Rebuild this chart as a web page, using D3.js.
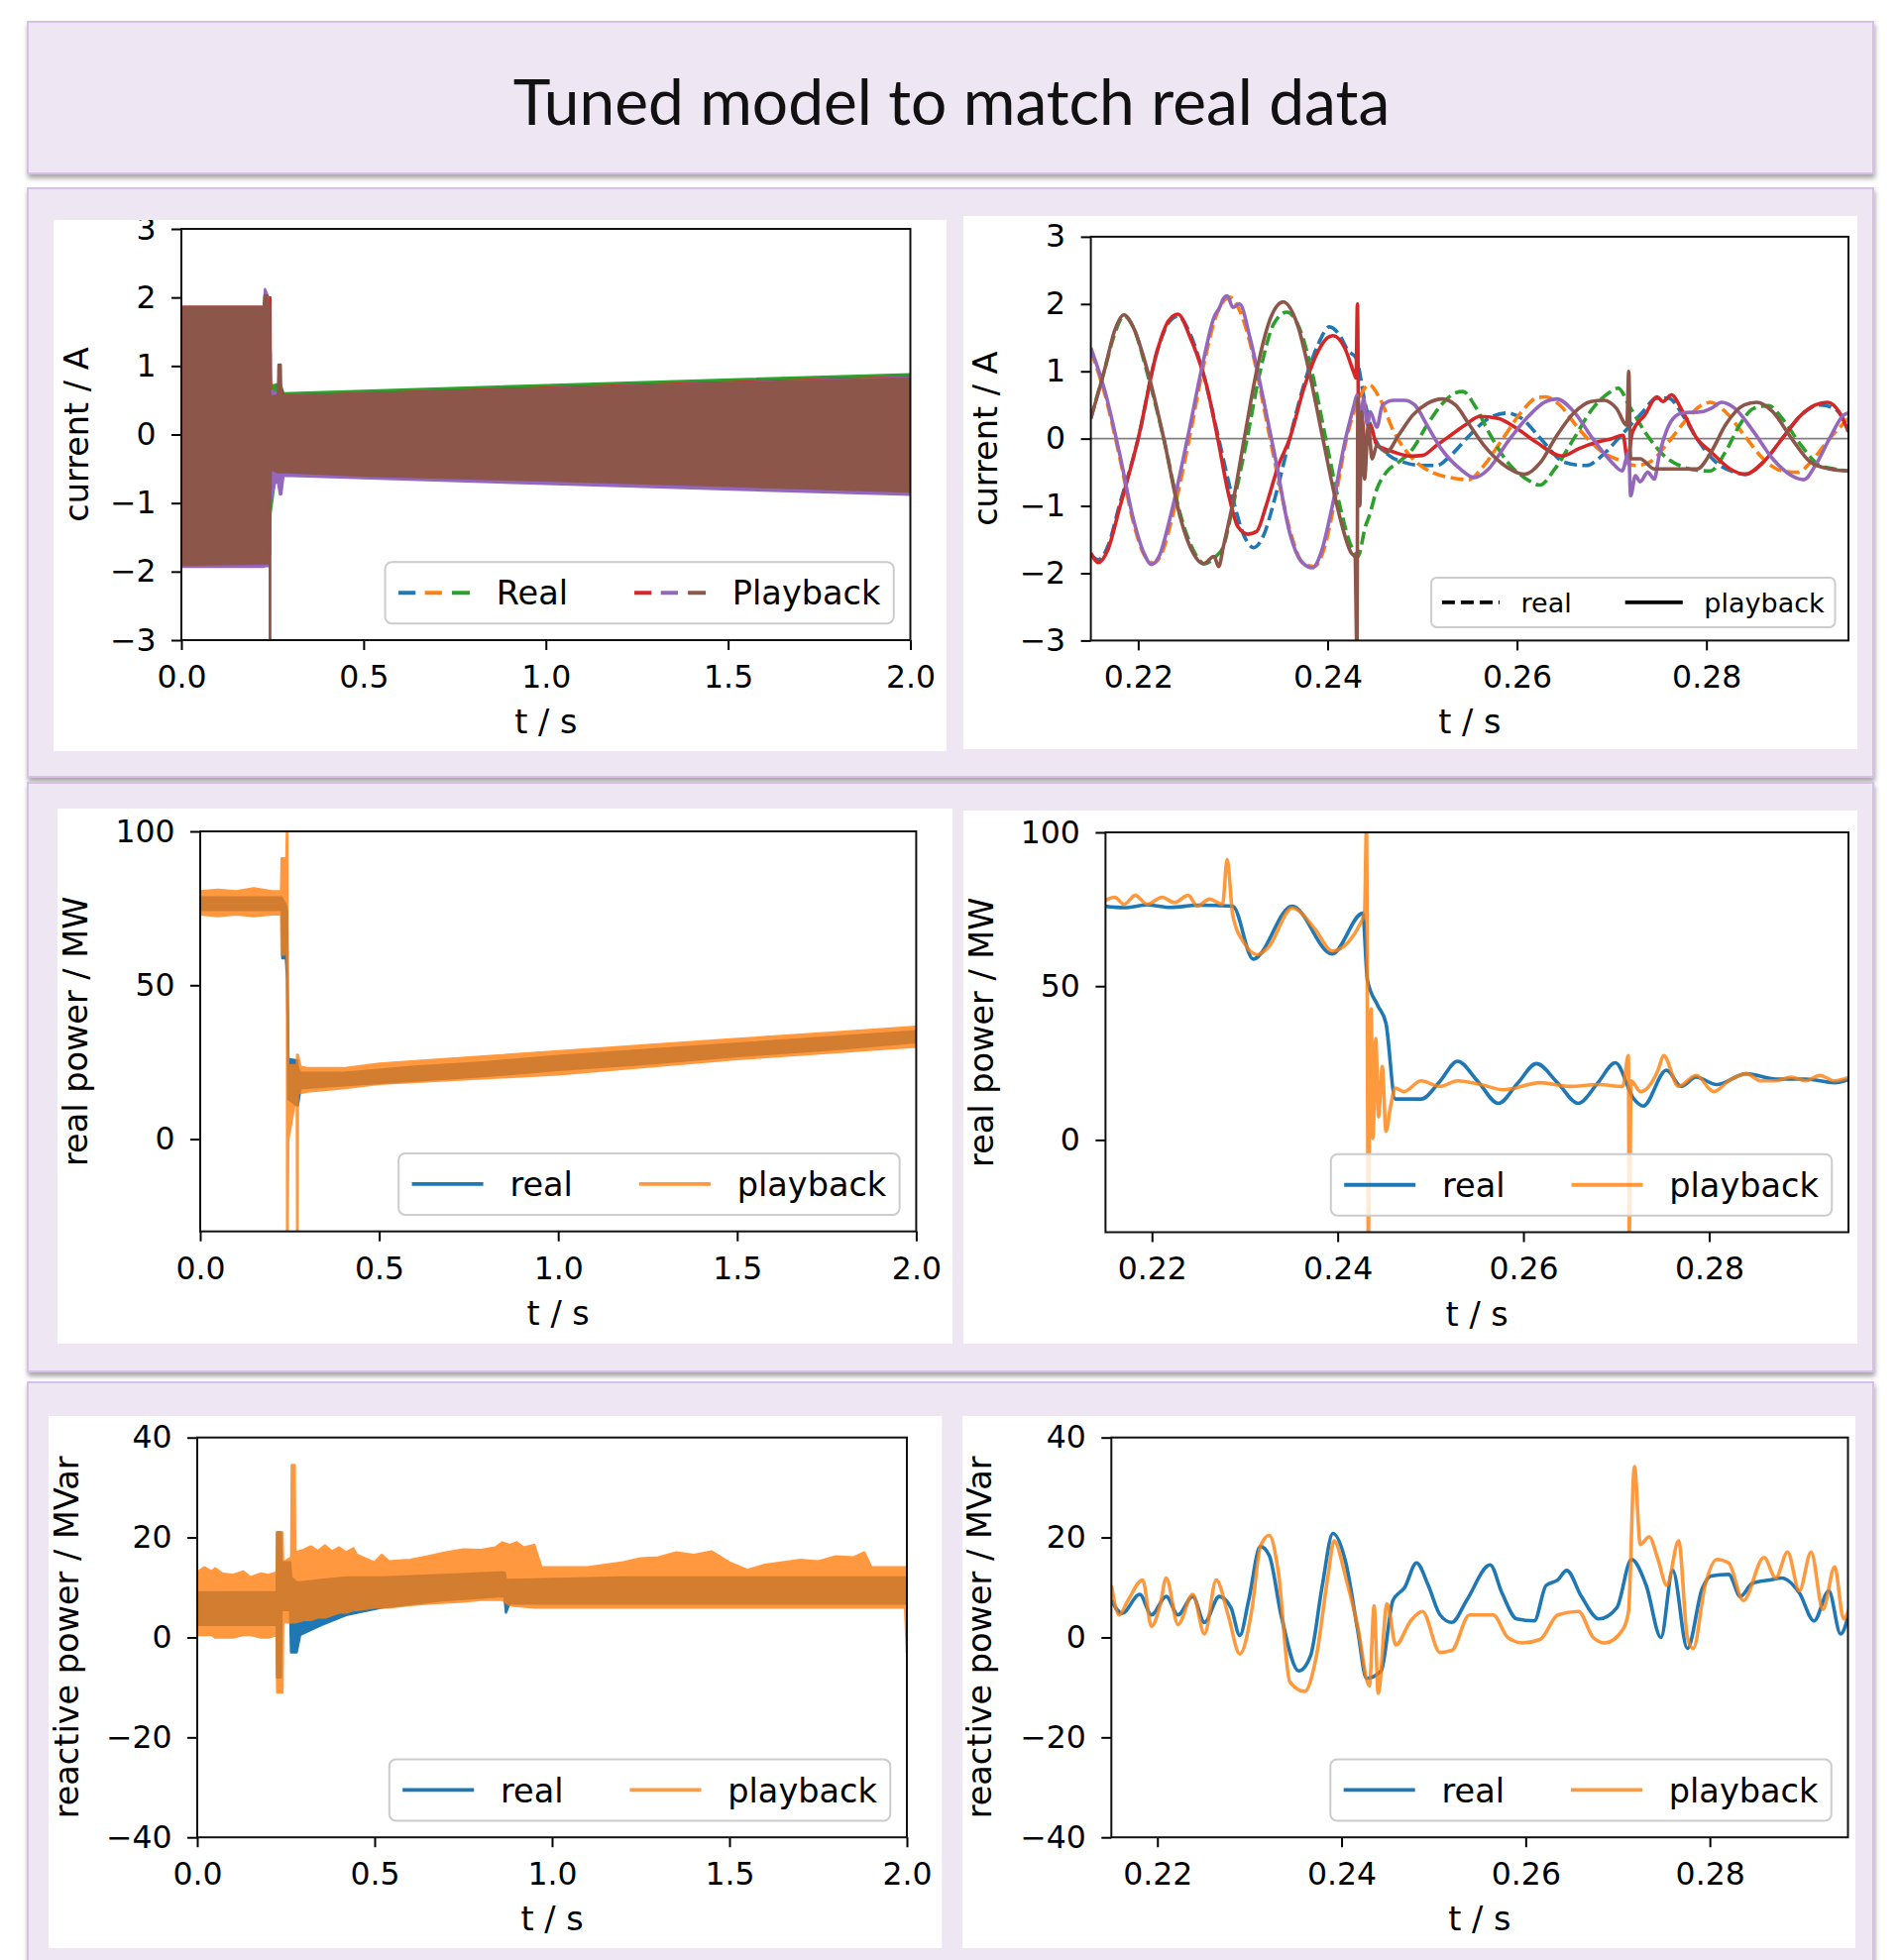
<!DOCTYPE html>
<html>
<head>
<meta charset="utf-8">
<script src="https://cdn.jsdelivr.net/npm/d3@7"></script>
<style>
body { margin: 0; background: #fff; }
svg { display: block; }
</style>
</head>
<body>
<svg width="1917" height="1978"></svg>
<script>
// ---- data ----
// full run (0..2 s), dense 60 Hz traces shown as envelopes: [t, low, high]
var curEnvRealA = [[0,-1.84,1.80],[0.226,-1.84,1.80],[0.2322,-1.62,1.82],[0.2406,-1.62,1.66],[0.2445,-0.4,1.2],[0.2465,-0.4,0.4],[0.28,-0.55,0.55],[1.0,-0.68,0.68],[2.0,-0.84,0.84]];
var curEnvRealB = [[0,-1.86,1.84],[0.226,-1.86,1.84],[0.2297,-1.9,2.1],[0.2386,-1.9,2.0],[0.2444,-0.6,0.8],[0.25,-0.6,0.62],[0.28,-0.56,0.55],[1.0,-0.69,0.68],[2.0,-0.85,0.84]];
var curEnvRealC = [[0,-1.88,1.84],[0.226,-1.88,1.84],[0.2357,-1.86,1.88],[0.2432,-1.75,1.0],[0.2444,-1.15,0.72],[0.256,-0.7,0.72],[0.2707,-0.69,0.75],[0.28,-0.56,0.6],[1.0,-0.68,0.72],[2.0,-0.84,0.88]];
var curEnvPlayA = [[0,-1.9,1.86],[0.226,-1.9,1.86],[0.2316,-1.42,1.86],[0.2406,-1.42,2.0],[0.2443,-0.3,2.0],[0.2455,-0.3,0.35],[0.2754,-0.53,0.65],[0.28,-0.55,0.56],[1.0,-0.68,0.68],[2.0,-0.84,0.84]];
var curEnvPlayB = [[0,-1.93,1.84],[0.226,-1.93,1.84],[0.2294,-1.92,2.12],[0.2384,-1.92,2.0],[0.2431,-1.0,0.65],[0.262,-0.6,0.6],[0.2705,-0.87,0.6],[0.274,-0.87,0.55],[0.28,-0.6,0.55],[1.0,-0.72,0.67],[2.0,-0.88,0.83]];
var curEnvPlayC = [[0,-1.9,1.82],[0.006,-1.9,1.86],[0.226,-1.88,1.86],[0.2285,-1.88,2.03],[0.2353,-1.88,2.03],[0.2405,-1.88,1.9],[0.2428,-1.8,1.2],[0.2429,-3.3,1.0],[0.2436,-3.3,0.6],[0.2437,-1.0,0.6],[0.2452,-0.5,0.55],[0.265,-0.55,0.57],[0.2665,-0.55,1.02],[0.2725,-0.55,1.02],[0.274,-0.55,0.57],[0.29,-0.55,0.56],[0.5,-0.6,0.6],[1.0,-0.67,0.67],[1.5,-0.75,0.75],[2.0,-0.83,0.82]];

var pEnvReal = [[0,74.5,78.5],[0.228,74.5,78.5],[0.2295,58.8,78],[0.2395,58.8,76],[0.2427,52,74],[0.2445,37.9,45],[0.2462,13,26],[0.27,11,25.5],[0.273,11,23],[0.28,16.5,21.5],[0.4,17.5,21.5],[0.6,19,23.5],[0.8,20.5,25],[1.0,22.5,27],[1.25,24.5,29],[1.5,27,31],[1.75,29,33],[2.0,31.5,35]];
var pEnvPlay = [[0,73,80.5],[0.05,72.5,81],[0.1,73,80.5],[0.15,72.5,81.5],[0.2,73,80.5],[0.226,73,80.5],[0.2275,60,91.2],[0.241,60,91.2],[0.2425,60,102],[0.2428,-32,102],[0.2438,-32,45],[0.246,0,24],[0.27,15.5,24],[0.2708,-32,27.4],[0.2718,-32,27.4],[0.2728,15,27.4],[0.28,15,23.5],[0.3,15.5,23],[0.4,16.5,23],[0.5,18,24.5],[0.75,19.5,26.5],[1.0,21,28.5],[1.25,23.5,30.5],[1.5,26,32.5],[1.75,28,34.5],[2.0,30,36.5]];

var qEnvReal = [[0,2.5,9],[0.224,2.5,9],[0.2255,-8,21],[0.2355,-8,21],[0.2375,5.5,15],[0.262,5.5,15],[0.2645,-3,12],[0.28,-3,11],[0.29,0.5,11],[0.35,2.5,11.5],[0.42,4.5,12],[0.52,6,12],[0.69,7.4,12.5],[0.85,8.2,13],[0.866,8.2,13],[0.87,5,11.5],[0.88,6.8,11.5],[1.2,6.8,12],[1.6,6.8,12],[2.0,6.8,12]];
var qEnvPlay = [[0,0.5,13],[0.02,0.5,14],[0.04,0.5,13.2],[0.05,0,13.8],[0.07,0,12.8],[0.1,0,12.5],[0.13,0.5,13.2],[0.15,0.5,12],[0.18,0,12.8],[0.2,0,12.5],[0.224,0.5,13],[0.2255,-11,21],[0.24,-11,21],[0.242,3,15],[0.265,3,16],[0.2665,3,34.5],[0.2745,3,34.5],[0.276,3,17],[0.3,3.5,17.5],[0.32,3.5,18.2],[0.34,4,17.3],[0.36,4,18.4],[0.38,4.5,17.2],[0.4,5,18],[0.42,5,17],[0.44,5.5,17.8],[0.45,5.5,16.5],[0.5,6,15],[0.52,6,16.5],[0.54,6,15.2],[0.6,6.5,15.5],[0.65,6.8,16.2],[0.7,7,17],[0.75,7.2,17.6],[0.8,7.5,17.5],[0.84,7.5,18],[0.86,7.5,19],[0.88,6.5,18.5],[0.9,6.3,19],[0.92,6.2,18],[0.95,6,18.5],[0.97,6,14],[1.1,6,14],[1.2,6,15],[1.25,6,15.8],[1.3,6,16],[1.35,6,17],[1.4,6,16.5],[1.45,6,17.2],[1.5,6,15],[1.55,6,13.5],[1.6,6,14.5],[1.7,6,15.5],[1.75,6,15.2],[1.8,6,16.2],[1.85,6,16],[1.88,6,17],[1.9,6,14],[1.995,6,14],[2.0,-3,14]];

// zoomed window (0.215..0.295 s): [t, value]
var curRealA = [[0.2150,-1.72],[0.2158,-1.8],[0.2168,-1.6],[0.2180,-1.0],[0.2200,0.0],[0.2220,1.3],[0.2232,1.72],[0.2242,1.82],[0.2255,1.55],[0.2270,0.9],[0.2285,0.0],[0.2300,-0.9],[0.2312,-1.45],[0.2322,-1.62],[0.2332,-1.45],[0.2345,-0.85],[0.2360,0.0],[0.2375,0.8],[0.2390,1.4],[0.2402,1.66],[0.2412,1.55],[0.2422,1.3],[0.2430,1.2],[0.2440,0.5],[0.2450,0.0],[0.2465,-0.25],[0.2480,-0.35],[0.2500,-0.4],[0.2515,-0.4],[0.2530,-0.25],[0.2550,0.05],[0.2570,0.3],[0.2590,0.38],[0.2605,0.3],[0.2625,0.0],[0.2650,-0.35],[0.2673,-0.4],[0.2690,-0.25],[0.2710,0.05],[0.2730,0.35],[0.2748,0.6],[0.2760,0.6],[0.2775,0.35],[0.2790,0.0],[0.2810,-0.35],[0.2830,-0.5],[0.2841,-0.53],[0.2860,-0.35],[0.2880,0.0],[0.2900,0.35],[0.2920,0.5],[0.2935,0.45],[0.2950,0.15]];
var curRealB = [[0.2150,1.3],[0.2165,0.65],[0.2180,-0.25],[0.2195,-1.25],[0.2206,-1.72],[0.2216,-1.85],[0.2225,-1.7],[0.2238,-1.05],[0.2254,0.0],[0.2270,1.15],[0.2283,1.85],[0.2297,2.1],[0.2310,1.8],[0.2322,1.2],[0.2335,0.3],[0.2348,-0.6],[0.2362,-1.45],[0.2374,-1.85],[0.2386,-1.9],[0.2396,-1.65],[0.2408,-0.9],[0.2420,0.0],[0.2432,0.55],[0.2444,0.8],[0.2455,0.6],[0.2470,0.1],[0.2490,-0.3],[0.2510,-0.5],[0.2530,-0.58],[0.2549,-0.61],[0.2565,-0.4],[0.2585,0.0],[0.2605,0.4],[0.2620,0.6],[0.2630,0.62],[0.2645,0.5],[0.2665,0.15],[0.2690,-0.2],[0.2710,-0.33],[0.2725,-0.4],[0.2740,-0.35],[0.2760,-0.05],[0.2780,0.3],[0.2795,0.5],[0.2804,0.54],[0.2820,0.4],[0.2840,0.05],[0.2860,-0.3],[0.2880,-0.48],[0.2897,-0.5],[0.2910,-0.35],[0.2930,0.0],[0.2950,0.3]];
var curRealC = [[0.2150,0.3],[0.2165,1.05],[0.2175,1.55],[0.2185,1.82],[0.2195,1.65],[0.2210,0.95],[0.2227,0.0],[0.2245,-1.15],[0.2258,-1.65],[0.2270,-1.86],[0.2282,-1.75],[0.2290,-1.6],[0.2300,-1.0],[0.2315,0.0],[0.2328,0.95],[0.2343,1.7],[0.2357,1.88],[0.2370,1.65],[0.2385,0.9],[0.2398,0.0],[0.2413,-1.0],[0.2425,-1.6],[0.2432,-1.75],[0.2440,-1.3],[0.2444,-1.15],[0.2452,-0.75],[0.2462,-0.5],[0.2475,-0.35],[0.2490,-0.15],[0.2505,0.2],[0.2520,0.5],[0.2535,0.68],[0.2543,0.7],[0.2555,0.5],[0.2570,0.1],[0.2590,-0.35],[0.2610,-0.6],[0.2624,-0.69],[0.2640,-0.45],[0.2660,0.0],[0.2680,0.45],[0.2697,0.68],[0.2707,0.75],[0.2718,0.5],[0.2735,0.1],[0.2755,-0.25],[0.2775,-0.42],[0.2790,-0.47],[0.2804,-0.48],[0.2820,-0.2],[0.2835,0.2],[0.2850,0.45],[0.2866,0.49],[0.2880,0.3],[0.2900,-0.1],[0.2920,-0.4],[0.2935,-0.45],[0.2950,-0.48]];
var curPlayA = [[0.2150,-1.70],[0.2158,-1.84],[0.2168,-1.65],[0.2180,-1.05],[0.2200,0.0],[0.2220,1.3],[0.2232,1.75],[0.2242,1.85],[0.2255,1.5],[0.2262,1.25],[0.2272,0.8],[0.2284,0.0],[0.2295,-0.8],[0.2305,-1.3],[0.2316,-1.42],[0.2325,-1.38],[0.2335,-1.0],[0.2348,-0.4],[0.2360,0.0],[0.2375,0.75],[0.2390,1.3],[0.2400,1.5],[0.2406,1.53],[0.2418,1.35],[0.2428,0.97],[0.2430,0.9],[0.24315,2.0],[0.2433,-0.2],[0.2436,0.3],[0.2440,-0.1],[0.2445,0.2],[0.2452,-0.1],[0.2460,-0.15],[0.2470,-0.2],[0.2487,-0.26],[0.2500,-0.25],[0.2515,-0.1],[0.2530,0.05],[0.2545,0.2],[0.2561,0.33],[0.2580,0.3],[0.2600,0.15],[0.2620,-0.05],[0.2648,-0.26],[0.2665,-0.15],[0.2685,-0.05],[0.2700,0.0],[0.2712,0.05],[0.27165,-0.3],[0.2722,0.1],[0.2735,0.35],[0.2748,0.62],[0.2754,0.55],[0.2763,0.65],[0.2775,0.4],[0.2790,0.0],[0.2805,-0.2],[0.2825,-0.45],[0.2841,-0.53],[0.2860,-0.35],[0.2880,0.0],[0.2900,0.35],[0.2915,0.5],[0.2928,0.54],[0.2940,0.4],[0.2950,0.1]];
var curPlayB = [[0.2150,1.35],[0.2165,0.7],[0.2180,-0.2],[0.2195,-1.2],[0.2206,-1.7],[0.2214,-1.87],[0.2222,-1.75],[0.2235,-1.1],[0.2252,0.0],[0.2268,1.1],[0.2280,1.8],[0.2286,1.95],[0.2290,2.08],[0.2294,2.12],[0.2300,1.95],[0.2307,2.0],[0.2318,1.5],[0.2332,0.6],[0.2345,-0.3],[0.2360,-1.4],[0.2372,-1.82],[0.2384,-1.92],[0.2393,-1.7],[0.2405,-1.0],[0.2419,0.0],[0.2428,0.5],[0.2431,0.65],[0.2435,0.3],[0.2438,0.6],[0.2442,0.2],[0.2445,0.4],[0.2452,0.17],[0.2458,0.5],[0.2470,0.57],[0.2481,0.57],[0.2492,0.5],[0.2505,0.2],[0.2520,-0.15],[0.2540,-0.45],[0.2555,-0.58],[0.2570,-0.45],[0.2590,-0.05],[0.2610,0.3],[0.2630,0.55],[0.2642,0.59],[0.2660,0.4],[0.2680,0.0],[0.2700,-0.35],[0.2711,-0.48],[0.2718,-0.2],[0.2720,-0.85],[0.2725,-0.55],[0.2730,-0.64],[0.2738,-0.5],[0.2745,-0.6],[0.2750,-0.26],[0.2765,0.3],[0.2775,0.38],[0.2795,0.4],[0.2805,0.45],[0.2816,0.54],[0.2830,0.45],[0.2850,0.1],[0.2870,-0.3],[0.2890,-0.55],[0.2903,-0.61],[0.2915,-0.4],[0.2930,0.0],[0.2945,0.35],[0.2950,0.38]];
var curPlayC = [[0.2150,0.30],[0.2165,1.05],[0.2175,1.6],[0.2185,1.84],[0.2195,1.65],[0.2210,1.0],[0.2227,0.0],[0.2245,-1.2],[0.2258,-1.7],[0.2269,-1.86],[0.2280,-1.75],[0.2285,-1.9],[0.2290,-1.6],[0.2300,-0.95],[0.2312,0.0],[0.2325,1.0],[0.2340,1.8],[0.2353,2.03],[0.2368,1.7],[0.2382,0.9],[0.2395,0.0],[0.2410,-1.0],[0.2425,-1.7],[0.2429,-1.76],[0.2431,-3.2],[0.2432,0.6],[0.2434,-1.0],[0.2436,0.4],[0.2439,-0.6],[0.2443,0.2],[0.2447,-0.3],[0.2452,-0.1],[0.2462,-0.2],[0.2475,0.05],[0.2490,0.35],[0.2505,0.52],[0.2521,0.59],[0.2535,0.5],[0.2550,0.2],[0.2565,-0.1],[0.2585,-0.38],[0.2608,-0.53],[0.2625,-0.35],[0.2640,0.0],[0.2660,0.38],[0.2678,0.55],[0.2692,0.57],[0.2705,0.45],[0.2716,0.2],[0.2718,1.0],[0.2720,-0.3],[0.2730,-0.3],[0.2745,-0.45],[0.2770,-0.45],[0.2790,-0.45],[0.2805,-0.2],[0.2820,0.2],[0.2840,0.5],[0.2853,0.54],[0.2870,0.4],[0.2890,0.0],[0.2910,-0.35],[0.2930,-0.45],[0.2950,-0.48]];

var pReal = [[0.21485,76.0],[0.2170,75.5],[0.2195,76.4],[0.2220,75.6],[0.2250,76.3],[0.2287,76.0],[0.2309,58.8],[0.2351,76.0],[0.2394,60.5],[0.2427,73.7],[0.2432,52.0],[0.2443,43.8],[0.2452,37.9],[0.2462,13.3],[0.2490,13.3],[0.2510,19.0],[0.2529,25.6],[0.2551,19.0],[0.2573,11.9],[0.2594,18.5],[0.2614,24.8],[0.2637,18.5],[0.2659,11.9],[0.2680,18.5],[0.2699,25.1],[0.2719,13.3],[0.2729,11.0],[0.2754,22.7],[0.2770,17.4],[0.2786,20.4],[0.2808,18.0],[0.2840,21.5],[0.2872,19.8],[0.2904,19.8],[0.2935,18.6],[0.2951,19.8]];
var pPlay = [[0.21485,77.7],[0.2160,78.9],[0.2170,76.6],[0.2182,79.5],[0.2195,76.6],[0.2211,78.9],[0.2224,77.2],[0.2239,79.5],[0.2249,76.0],[0.2262,78.3],[0.2276,76.6],[0.2281,91.2],[0.2287,73.1],[0.2300,63.7],[0.2313,60.2],[0.2325,62.5],[0.2351,75.4],[0.2376,68.4],[0.2394,61.4],[0.2427,71.9],[0.2429,74.0],[0.2431,102],[0.2433,-32],[0.2435,30.9],[0.2436,42.6],[0.2438,0.5],[0.2441,33.0],[0.2444,7.5],[0.2448,23.9],[0.2452,2.8],[0.2457,11.0],[0.2462,16.9],[0.2471,15.7],[0.2490,19.2],[0.2510,17.4],[0.2529,19.2],[0.2554,18.0],[0.2579,16.3],[0.2618,18.6],[0.2649,17.4],[0.2681,18.0],[0.2707,17.4],[0.2713,27.4],[0.2714,-31],[0.2716,19.2],[0.2726,15.7],[0.2745,22.7],[0.2751,27.4],[0.2767,17.4],[0.2786,21.0],[0.2805,15.7],[0.2821,19.2],[0.2840,21.5],[0.2856,19.2],[0.2872,19.2],[0.2888,20.4],[0.2904,19.2],[0.2919,21.0],[0.2935,19.2],[0.2951,20.4]];

var qReal = [[0.21501,7.4],[0.21616,4.8],[0.21808,8.6],[0.21936,4.5],[0.22096,8.2],[0.22224,4.5],[0.22384,8.2],[0.22512,3.0],[0.22672,8.2],[0.22800,5.9],[0.22895,0.4],[0.22991,7.4],[0.23119,18.2],[0.23215,16.4],[0.23343,4.5],[0.23535,-6.7],[0.23663,-3.7],[0.23791,10.4],[0.23906,20.8],[0.24047,14.9],[0.24175,1.5],[0.24271,-8.2],[0.24430,-6.7],[0.24558,7.4],[0.24686,10.0],[0.24814,14.9],[0.24942,10.4],[0.25070,4.5],[0.25198,3.0],[0.25358,7.4],[0.25614,14.5],[0.25742,8.9],[0.25902,3.7],[0.26093,3.3],[0.26221,10.4],[0.26349,11.5],[0.26445,13.4],[0.26605,8.2],[0.26797,3.7],[0.26989,5.9],[0.27149,15.6],[0.27309,10.4],[0.27469,0.0],[0.27597,13.4],[0.27756,-2.2],[0.27916,9.7],[0.28012,12.3],[0.28204,12.6],[0.28332,8.2],[0.28460,10.8],[0.28652,11.5],[0.28780,11.9],[0.28972,8.9],[0.29132,3.3],[0.29292,9.3],[0.29420,0.7],[0.29516,5.2]];
var qPlay = [[0.21501,10.4],[0.21584,4.5],[0.21680,7.4],[0.21840,11.5],[0.21936,2.2],[0.22032,6.7],[0.22096,11.9],[0.22224,2.6],[0.22384,8.6],[0.22512,0.7],[0.22640,11.5],[0.22768,4.5],[0.22895,-3.3],[0.23023,5.2],[0.23119,18.2],[0.23215,20.4],[0.23311,13.4],[0.23439,-8.9],[0.23599,-10.8],[0.23727,-3.7],[0.23855,12.6],[0.23919,19.3],[0.24047,11.9],[0.24175,2.2],[0.24303,-9.7],[0.24354,6.3],[0.24398,-11.2],[0.24494,6.7],[0.24590,-1.5],[0.24750,3.3],[0.24878,5.2],[0.25070,-3.0],[0.25198,-2.6],[0.25390,4.5],[0.25646,4.5],[0.25806,0.0],[0.25966,-1.1],[0.26157,-0.4],[0.26349,4.5],[0.26573,5.2],[0.26733,0.0],[0.26861,-1.1],[0.27053,1.5],[0.27117,5.2],[0.27181,34.2],[0.27245,18.6],[0.27341,20.1],[0.27437,15.6],[0.27533,10.4],[0.27661,19.3],[0.27756,0.0],[0.27820,-2.2],[0.27948,10.4],[0.28076,15.6],[0.28204,14.9],[0.28364,7.4],[0.28588,16.0],[0.28716,11.9],[0.28844,17.1],[0.28972,9.3],[0.29100,17.1],[0.29228,5.6],[0.29356,14.1],[0.29452,3.7],[0.29516,5.9]];

// ticks
var fullTicks = [0, 0.5, 1.0, 1.5, 2.0];
var zoomTicks = [0.22, 0.24, 0.26, 0.28];
var curTicks = [-3, -2, -1, 0, 1, 2, 3];
var pTicks = [0, 50, 100];
var qTicks = [-40, -20, 0, 20, 40];

var C = { blue: "#1f77b4", orange: "#ff7f0e", green: "#2ca02c", red: "#d62728", purple: "#9467bd", brown: "#8c564b" };

var svg = d3.select("svg");
var defs = svg.append("defs");
var font = "'DejaVu Sans', sans-serif";

defs.append("filter").attr("id", "shadow")
    .attr("x", "-2%").attr("y", "-5%").attr("width", "104%").attr("height", "115%")
  .append("feDropShadow")
    .attr("dx", 1).attr("dy", 4).attr("stdDeviation", 2.5)
    .attr("flood-color", "#000").attr("flood-opacity", 0.35);

// slide boxes
[[28, 22, 1862, 153], [28, 190, 1862, 594], [28, 790, 1862, 594], [28, 1395, 1862, 640]].forEach(function (b) {
    svg.append("rect")
        .attr("x", b[0]).attr("y", b[1]).attr("width", b[2]).attr("height", b[3])
        .attr("fill", "#EEE6F3").attr("stroke", "#D7C0E8").attr("stroke-width", 2)
        .attr("filter", "url(#shadow)");
});

svg.append("text")
    .attr("x", 960).attr("y", 126)
    .attr("text-anchor", "middle")
    .attr("font-family", "Lato, 'Open Sans', sans-serif")
    .attr("font-size", 64)
    .attr("fill", "#111")
    .text("Tuned model to match real data");

var nClip = 0;

function panel(o) {
    var id = "c" + (nClip++);
    var w = o.white, p = o.plot;
    defs.append("clipPath").attr("id", id).append("rect")
        .attr("x", w[0]).attr("y", w[1]).attr("width", w[2] - w[0]).attr("height", w[3] - w[1]);
    defs.append("clipPath").attr("id", id + "p").append("rect")
        .attr("x", p[0]).attr("y", p[1]).attr("width", p[2] - p[0]).attr("height", p[3] - p[1]);

    var g = svg.append("g").attr("clip-path", "url(#" + id + ")");
    g.append("rect")
        .attr("x", w[0]).attr("y", w[1]).attr("width", w[2] - w[0]).attr("height", w[3] - w[1])
        .attr("fill", "#fff");

    var x = d3.scaleLinear().domain(o.xDomain).range([p[0], p[2]]);
    var y = d3.scaleLinear().domain(o.yDomain).range([p[3], p[1]]);

    var plotG = g.append("g").attr("clip-path", "url(#" + id + "p)");
    o.draw(plotG, x, y);

    // x axis
    var xa = g.append("g")
        .attr("transform", "translate(0," + p[3] + ")")
        .call(d3.axisBottom(x).tickValues(o.xTicks).tickFormat(d3.format(o.xFmt)).tickSize(10).tickPadding(15.5));
    // y axis
    var ya = g.append("g")
        .attr("transform", "translate(" + p[0] + ",0)")
        .call(d3.axisLeft(y).tickValues(o.yTicks).tickFormat(d3.format("d")).tickSize(10).tickPadding(15.5));
    [xa, ya].forEach(function (a) {
        a.attr("font-family", font).attr("font-size", 31.5);
        a.select(".domain").remove();
        a.selectAll(".tick line").attr("stroke", "#000").attr("stroke-width", 2);
        a.selectAll(".tick text").attr("fill", "#000");
    });

    // frame
    g.append("rect")
        .attr("x", p[0]).attr("y", p[1]).attr("width", p[2] - p[0]).attr("height", p[3] - p[1])
        .attr("fill", "none").attr("stroke", "#111").attr("stroke-width", 2);

    // labels
    g.append("text")
        .attr("x", (p[0] + p[2]) / 2).attr("y", p[3] + 94)
        .attr("text-anchor", "middle")
        .attr("font-family", font).attr("font-size", 33.5)
        .text("t / s");
    g.append("text")
        .attr("transform", "translate(" + o.ylabelX + "," + (p[1] + p[3]) / 2 + ") rotate(-90)")
        .attr("text-anchor", "middle")
        .attr("font-family", font).attr("font-size", 33.5)
        .text(o.ylabel);

    legend(g, p, o.legendSize, o.legend);
}

function legend(g, p, fs, items) {
    var pad = 0.4 * fs, hl = 2.15 * fs, htp = 0.8 * fs, cs = 2 * fs, h = 1.85 * fs;
    var lg = g.append("g");
    var box = lg.append("rect");
    var texts = items.map(function (it) {
        return lg.append("text")
            .attr("font-family", font).attr("font-size", fs)
            .text(it.label);
    });
    var widths = texts.map(function (t) { return t.node().getComputedTextLength(); });
    var w = 2 * pad + items.length * (hl + htp) + d3.sum(widths) + (items.length - 1) * cs;
    var x0 = p[2] - 0.5 * fs - w, y0 = p[3] - 0.5 * fs - h, cy = y0 + h / 2;
    box.attr("x", x0).attr("y", y0).attr("width", w).attr("height", h)
        .attr("rx", 0.2 * fs)
        .attr("fill", "#fff").attr("fill-opacity", 0.8)
        .attr("stroke", "#cccccc").attr("stroke-width", 2);
    var cx = x0 + pad;
    items.forEach(function (it, i) {
        it.handle(lg, cx, cx + hl, cy);
        texts[i].attr("x", cx + hl + htp).attr("y", cy + 0.36 * fs);
        cx += hl + htp + widths[i] + cs;
    });
}

function tripleDash(colors) {
    return function (lg, a, b, cy) {
        var L = b - a;
        [[0, 0.24], [0.37, 0.61], [0.75, 1]].forEach(function (f, i) {
            lg.append("line")
                .attr("x1", a + f[0] * L).attr("x2", a + f[1] * L)
                .attr("y1", cy).attr("y2", cy)
                .attr("stroke", colors[i]).attr("stroke-width", 4);
        });
    };
}

function lineHandle(color, opacity, dash) {
    return function (lg, a, b, cy) {
        lg.append("line")
            .attr("x1", a).attr("x2", b).attr("y1", cy).attr("y2", cy)
            .attr("stroke", color).attr("stroke-opacity", opacity)
            .attr("stroke-width", 3.8)
            .attr("stroke-dasharray", dash || null);
    };
}

function bands(g, x, y, list) {
    var area = d3.area()
        .x(function (d) { return x(d[0]); })
        .y0(function (d) { return y(d[1]); })
        .y1(function (d) { return y(d[2]); });
    list.forEach(function (s) {
        g.append("g").attr("opacity", s.opacity || 1)
          .append("path")
            .datum(s.data)
            .attr("d", area)
            .attr("fill", s.color)
            .attr("stroke", s.color)
            .attr("stroke-width", 2.5)
            .attr("stroke-linejoin", "round");
    });
}

function lines(g, x, y, list) {
    var line = d3.line()
        .x(function (d) { return x(d[0]); })
        .y(function (d) { return y(d[1]); })
        .curve(d3.curveMonotoneX);
    list.forEach(function (s) {
        g.append("path")
            .datum(s.data)
            .attr("d", line)
            .attr("fill", "none")
            .attr("stroke", s.color)
            .attr("stroke-opacity", s.opacity || 1)
            .attr("stroke-width", 3.6)
            .attr("stroke-linejoin", "round")
            .attr("stroke-dasharray", s.dash ? "13,5.5" : null);
    });
}

var rpLegend = [
    { label: "real", handle: lineHandle(C.blue, 1) },
    { label: "playback", handle: lineHandle(C.orange, 0.8) }
];

// row 1
panel({
    white: [54, 222, 955, 758], plot: [183, 231, 918.5, 646],
    xDomain: [0, 2], yDomain: [-3, 3], xTicks: fullTicks, yTicks: curTicks, xFmt: ".1f",
    ylabel: "current / A", ylabelX: 89, legendSize: 33.5,
    legend: [
        { label: "Real", handle: tripleDash([C.blue, C.orange, C.green]) },
        { label: "Playback", handle: tripleDash([C.red, C.purple, C.brown]) }
    ],
    draw: function (g, x, y) {
        bands(g, x, y, [
            { data: curEnvRealA, color: C.blue },
            { data: curEnvRealB, color: C.orange },
            { data: curEnvRealC, color: C.green },
            { data: curEnvPlayA, color: C.red },
            { data: curEnvPlayB, color: C.purple },
            { data: curEnvPlayC, color: C.brown }
        ]);
    }
});

panel({
    white: [972, 218, 1874, 756], plot: [1100.6, 238.9, 1865, 646.4],
    xDomain: [0.215, 0.295], yDomain: [-3, 3], xTicks: zoomTicks, yTicks: curTicks, xFmt: ".2f",
    ylabel: "current / A", ylabelX: 1006, legendSize: 27,
    legend: [
        { label: "real", handle: lineHandle("#000", 1, "13,6") },
        { label: "playback", handle: lineHandle("#000", 1) }
    ],
    draw: function (g, x, y) {
        g.append("line")
            .attr("x1", x.range()[0]).attr("x2", x.range()[1])
            .attr("y1", y(0)).attr("y2", y(0))
            .attr("stroke", "#808080").attr("stroke-width", 1.7);
        lines(g, x, y, [
            { data: curRealA, color: C.blue, dash: true },
            { data: curRealB, color: C.orange, dash: true },
            { data: curRealC, color: C.green, dash: true },
            { data: curPlayA, color: C.red },
            { data: curPlayB, color: C.purple },
            { data: curPlayC, color: C.brown }
        ]);
    }
});

// row 2
panel({
    white: [58, 816, 961, 1356], plot: [202, 839, 924.4, 1242.7],
    xDomain: [0, 2], yDomain: [-30, 100], xTicks: fullTicks, yTicks: pTicks, xFmt: ".1f",
    ylabel: "real power / MW", ylabelX: 88, legendSize: 33.5, legend: rpLegend,
    draw: function (g, x, y) {
        bands(g, x, y, [
            { data: pEnvReal, color: C.blue },
            { data: pEnvPlay, color: C.orange, opacity: 0.8 }
        ]);
    }
});

panel({
    white: [972, 818, 1874, 1356], plot: [1115.4, 840, 1865, 1243.5],
    xDomain: [0.215, 0.295], yDomain: [-30, 100], xTicks: zoomTicks, yTicks: pTicks, xFmt: ".2f",
    ylabel: "real power / MW", ylabelX: 1002, legendSize: 33.5, legend: rpLegend,
    draw: function (g, x, y) {
        lines(g, x, y, [
            { data: pReal, color: C.blue },
            { data: pPlay, color: C.orange, opacity: 0.8 }
        ]);
    }
});

// row 3
panel({
    white: [49, 1429, 950.5, 1966], plot: [199, 1450.7, 915, 1854.2],
    xDomain: [0, 2], yDomain: [-40, 40], xTicks: fullTicks, yTicks: qTicks, xFmt: ".1f",
    ylabel: "reactive power / MVar", ylabelX: 78.5, legendSize: 33.5, legend: rpLegend,
    draw: function (g, x, y) {
        bands(g, x, y, [
            { data: qEnvReal, color: C.blue },
            { data: qEnvPlay, color: C.orange, opacity: 0.8 }
        ]);
    }
});

panel({
    white: [971, 1429, 1872, 1966], plot: [1121.3, 1450.7, 1864.5, 1854.2],
    xDomain: [0.215, 0.295], yDomain: [-40, 40], xTicks: zoomTicks, yTicks: qTicks, xFmt: ".2f",
    ylabel: "reactive power / MVar", ylabelX: 999.5, legendSize: 33.5, legend: rpLegend,
    draw: function (g, x, y) {
        lines(g, x, y, [
            { data: qReal, color: C.blue },
            { data: qPlay, color: C.orange, opacity: 0.8 }
        ]);
    }
});
</script>
</body>
</html>
